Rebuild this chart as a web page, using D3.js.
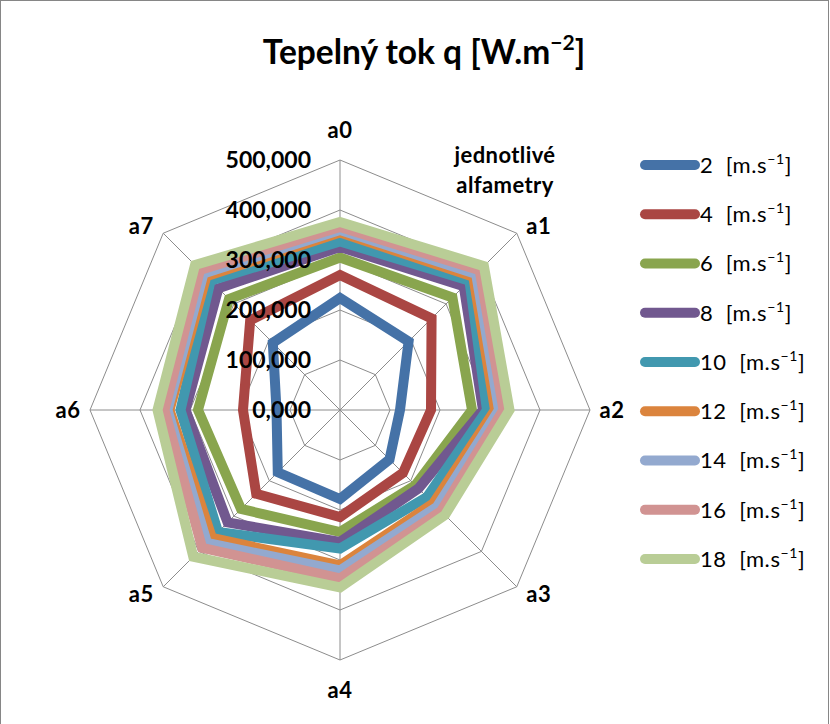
<!DOCTYPE html>
<html>
<head>
<meta charset="utf-8">
<script src="https://cdn.jsdelivr.net/npm/d3@7"></script>
<style>
  html, body { margin: 0; padding: 0; background: #fff; }
  svg { display: block; font-family: Lato, "Open Sans", "Liberation Sans", sans-serif; }
</style>
</head>
<body>
<svg id="chart" width="830" height="724"></svg>
<script>
// Categories (radar axes) and series
const axes = ["a0", "a1", "a2", "a3", "a4", "a5", "a6", "a7"];
const speeds = ["2", "4", "6", "8", "10", "12", "14", "16", "18"];
const colors = ["#4572A7", "#AA4643", "#89A54E", "#71588F", "#4198AF",
                "#DB843D", "#93A9CF", "#D19392", "#B9CD96"];

// Heat flux q [W.m-2] per axis a0..a7 for each wind speed
const q2  = [224, 194, 120, 140, 178, 176, 127, 190];
const q4  = [270, 259, 182, 178, 214, 237, 194, 254];
const q6  = [305, 318, 264, 213, 244, 280, 284, 314];
const q8  = [326, 350, 286, 222, 264, 318, 309, 344];
const q10 = [337, 366, 294, 246, 277, 345, 319, 366];
const q12 = [355, 377, 310, 264, 311, 362, 341, 378];
const q14 = [360, 385, 318, 274, 321, 376, 345, 386];
const q16 = [366, 395, 327, 286, 337, 390, 351, 396];
const q18 = [376, 407, 339, 297, 355, 415, 365, 410];
const seriesValues = [q2, q4, q6, q8, q10, q12, q14, q16, q18];

const tickValues = [0, 100, 200, 300, 400, 500];
const titleMain = "Tepelný tok q [W.m";
const titleSup = "−2";
const axisTitle = ["jednotlivé", "alfametry"];
const unitMain = "[m.s";
const unitSup = "−1";

const svg = d3.select("#chart");
const W = 830, H = 724;
const cx = 340, cy = 410, R = 250;

// frame
svg.append("rect").attr("x", 0.5).attr("y", 0.5).attr("width", W - 2).attr("height", H + 10)
  .attr("fill", "#fff").attr("stroke", "#868686").attr("stroke-width", 1);

const rScale = d3.scaleLinear().domain([0, 500]).range([0, R]);
const angle = d3.scaleLinear().domain([0, axes.length]).range([0, 2 * Math.PI]);

const g = svg.append("g").attr("transform", `translate(${cx},${cy})`);

// grid octagons
const gridLine = d3.lineRadial()
  .angle((d, i) => angle(i))
  .radius(d => rScale(d))
  .curve(d3.curveLinearClosed);

tickValues.filter(t => t > 0).forEach(t => {
  g.append("path")
    .attr("d", gridLine(axes.map(() => t)))
    .attr("fill", "none").attr("stroke", "#8c8c8c").attr("stroke-width", 1);
});

// spokes
axes.forEach((a, i) => {
  const th = angle(i);
  g.append("line")
    .attr("x1", 0).attr("y1", 0)
    .attr("x2", Math.sin(th) * R).attr("y2", -Math.cos(th) * R)
    .attr("stroke", "#8c8c8c").attr("stroke-width", 1);
});

// series lines
const seriesLine = d3.lineRadial()
  .angle((d, i) => angle(i))
  .radius(d => rScale(d))
  .curve(d3.curveLinearClosed);

seriesValues.forEach((vals, k) => {
  g.append("path")
    .attr("d", seriesLine(vals))
    .attr("fill", "none")
    .attr("stroke", colors[k])
    .attr("stroke-width", 10)
    .attr("stroke-linejoin", "miter")
    .attr("stroke-miterlimit", 10);
});

// value labels along a0
const czLocale = d3.formatLocale({ decimal: ",", thousands: "\u00a0", grouping: [3], currency: ["", "\u00a0Kč"] });
const fmt = czLocale.format(".3f");
tickValues.forEach(t => {
  g.append("text")
    .attr("x", -29).attr("y", -rScale(t))
    .attr("dy", "0.36em")
    .attr("text-anchor", "end")
    .attr("font-weight", "bold").attr("font-size", 23)
    .attr("fill", "#000")
    .text(fmt(t));
});

// axis category labels
axes.forEach((a, i) => {
  const th = angle(i);
  const s = Math.sin(th), c = Math.cos(th);
  const sx = Math.abs(s) < 0.1 ? 0 : Math.sign(s);
  const sy = Math.abs(c) < 0.1 ? 0 : Math.sign(c);
  const dy = Math.abs(c) > 0.9 ? 30 : 7;
  g.append("text")
    .attr("x", s * R + sx * 22)
    .attr("y", -c * R - sy * dy)
    .attr("dy", "0.36em")
    .attr("text-anchor", "middle")
    .attr("font-weight", "bold").attr("font-size", 22)
    .attr("letter-spacing", 0.5)
    .text(a);
});

// axis title
const at = svg.append("text")
  .attr("text-anchor", "middle")
  .attr("font-weight", "bold").attr("font-size", 22)
  .attr("letter-spacing", 0.4);
axisTitle.forEach((t, i) => {
  at.append("tspan").attr("x", 505).attr("y", 155 + i * 30).attr("dy", "0.36em").text(t);
});

// chart title
const title = svg.append("text")
  .attr("x", 424).attr("y", 64)
  .attr("text-anchor", "middle")
  .attr("font-weight", "bold").attr("font-size", 33.5);
title.append("tspan").text(titleMain);
title.append("tspan").attr("font-size", 21).attr("dy", -14).text(titleSup);
title.append("tspan").attr("dy", 14).text("]");

// legend
const legend = svg.append("g");
speeds.forEach((s, k) => {
  const y = 165 + k * 49.25;
  legend.append("line")
    .attr("x1", 645).attr("x2", 695).attr("y1", y).attr("y2", y)
    .attr("stroke", colors[k]).attr("stroke-width", 10).attr("stroke-linecap", "round");
  const t = legend.append("text")
    .attr("x", 700).attr("y", y).attr("dy", "0.36em")
    .attr("font-size", 22).attr("fill", "#000")
    .attr("letter-spacing", 0.6);
  t.append("tspan").text(s + "\u00a0\u00a0" + unitMain);
  t.append("tspan").attr("font-size", 14).attr("dy", -9).text(unitSup);
  t.append("tspan").attr("dy", 9).text("]");
});
</script>
</body>
</html>
